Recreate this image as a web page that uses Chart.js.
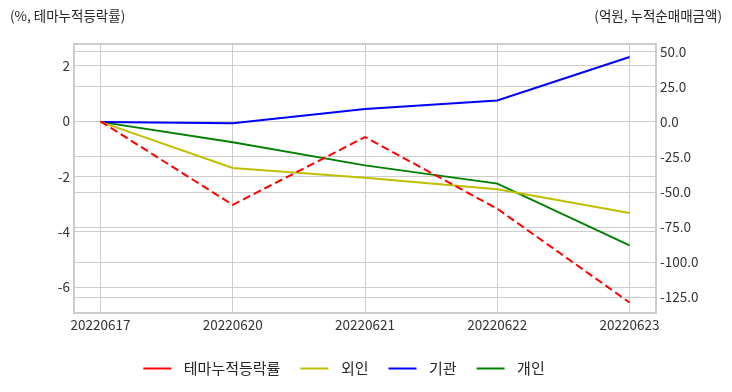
<!DOCTYPE html>
<html>
<head>
<meta charset="utf-8">
<script src="https://cdn.jsdelivr.net/npm/chart.js@4.4.0/dist/chart.umd.min.js"></script>
<style>
html, body { margin: 0; padding: 0; background: #fff; }
#wrap { width: 732px; height: 392px; }
</style>
</head>
<body>
<div id="wrap"><canvas id="chart"></canvas></div>
<script>
// data
var dates = ['20220617', '20220620', '20220621', '20220622', '20220623'];
var themeRet = [0, -3.02, -0.57, -3.16, -6.55];   // %, left axis
var foreign = [0, -32.9, -39.8, -48.0, -65.0];    // 억원, right axis
var inst = [0, -0.9, 9.1, 15.3, 46.2];
var indiv = [0, -14.5, -31.0, -44.0, -88.0];
var leftTicks = [2, 0, -2, -4, -6];
var rightTicks = [50, 25, 0, -25, -50, -75, -100, -125];

Chart.defaults.font.family = "'Noto Sans CJK KR', 'Noto Sans', sans-serif";
Chart.defaults.color = '#333';

function toPoints(arr) {
    return arr.map(function(v, i) { return {x: i, y: v}; });
}

var gridColor = '#cccccc';

// frame round the plot + the two axis captions
var framePlugin = {
    id: 'frame',
    beforeDatasetsDraw: function(chart) {
        var a = chart.chartArea, ctx = chart.ctx;
        ctx.save();
        ctx.strokeStyle = gridColor;
        ctx.lineWidth = 2;
        ctx.strokeRect(a.left, a.top, a.right - a.left, a.bottom - a.top);
        ctx.restore();
    },
    afterDraw: function(chart) {
        var ctx = chart.ctx;
        ctx.save();
        ctx.fillStyle = '#262626';
        ctx.font = "13.5px 'Noto Sans CJK KR', sans-serif";
        ctx.textBaseline = 'middle';
        ctx.textAlign = 'left';
        ctx.fillText('(%, 테마누적등락률)', 10, 16);
        ctx.textAlign = 'right';
        ctx.fillText('(억원, 누적순매매금액)', 722, 16);
        ctx.restore();
    },
    afterLayout: function(chart) {
        var l = chart.legend;
        l.left -= 22; l.right -= 22;
        l.top -= 6; l.bottom -= 6;
    }
};

var ctx = document.getElementById('chart');
var myChart = new Chart(ctx, {
    type: 'line',
    data: {
        datasets: [
        {
            label: '\u2004테마누적등락률',
            borderColor: '#ff0000',
            backgroundColor: '#ff0000',
            borderWidth: 2,
            borderDash: [8, 4],
            pointRadius: 0,
            yAxisID: 'y',
            data: toPoints(themeRet)
        },
        {
            label: '\u2004외인',
            borderColor: '#bfbf00',
            backgroundColor: '#bfbf00',
            borderWidth: 2,
            pointRadius: 0,
            yAxisID: 'y1',
            data: toPoints(foreign)
        },
        {
            label: '\u2004기관',
            borderColor: '#0000ff',
            backgroundColor: '#0000ff',
            borderWidth: 2,
            pointRadius: 0,
            yAxisID: 'y1',
            data: toPoints(inst)
        },
        {
            label: '\u2004개인',
            borderColor: '#008000',
            backgroundColor: '#008000',
            borderWidth: 2,
            pointRadius: 0,
            yAxisID: 'y1',
            data: toPoints(indiv)
        }
        ]
    },
    options: {
        responsive: true,
        maintainAspectRatio: false,
        animation: false,
        devicePixelRatio: 1,
        layout: {padding: {left: 0, right: 0, top: 44, bottom: 0}},
        plugins: {
            tooltip: {enabled: false},
            legend: {
                position: 'bottom',
                labels: {
                    usePointStyle: true,
                    pointStyle: 'line',
                    pointStyleWidth: 28,
                    padding: 20,
                    color: '#262626',
                    font: {size: 15}
                }
            }
        },
        scales: {
            x: {
                type: 'linear',
                min: -0.2,
                max: 4.2,
                afterBuildTicks: function(axis) {
                    axis.ticks = dates.map(function(d, i) { return {value: i}; });
                },
                afterFit: function(axis) { axis.height = 34; },
                ticks: {
                    padding: 4,
                    color: '#333',
                    font: {size: 13.5},
                    maxRotation: 0,
                    callback: function(v) { return dates[v]; }
                },
                grid: {color: gridColor, lineWidth: 1, drawTicks: false},
                border: {display: false}
            },
            y: {
                position: 'left',
                min: -6.93,
                max: 2.795,
                afterBuildTicks: function(axis) {
                    axis.ticks = leftTicks.map(function(v) { return {value: v}; });
                },
                afterFit: function(axis) { axis.width = 74; },
                ticks: {padding: 4, color: '#333', font: {size: 13.5}},
                grid: {color: gridColor, lineWidth: 1, drawTicks: false},
                border: {display: false}
            },
            y1: {
                position: 'right',
                min: -136.2,
                max: 55.5,
                afterBuildTicks: function(axis) {
                    axis.ticks = rightTicks.map(function(v) { return {value: v}; });
                },
                afterFit: function(axis) { axis.width = 76; },
                ticks: {
                    padding: 4,
                    color: '#333',
                    font: {size: 13.5},
                    callback: function(v) { return v.toFixed(1); }
                },
                grid: {color: gridColor, lineWidth: 1, drawTicks: false},
                border: {display: false}
            }
        }
    },
    plugins: [framePlugin]
});
</script>
</body>
</html>
